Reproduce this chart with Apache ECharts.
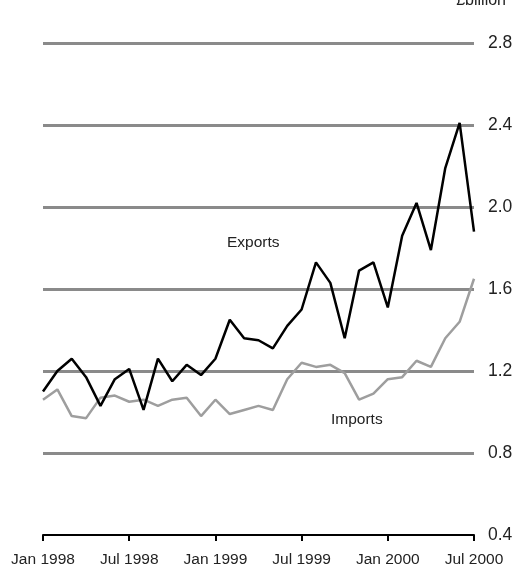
<!DOCTYPE html>
<html><head><meta charset="utf-8">
<script src="https://cdn.jsdelivr.net/npm/echarts@6/dist/echarts.min.js"></script>
<style>html,body{margin:0;padding:0;background:#fff}#c{width:516px;height:568px}</style>
</head><body><div id="c"></div>
<script>
const months = ['Jan','Feb','Mar','Apr','May','Jun','Jul','Aug','Sep','Oct','Nov','Dec'];
const categories = [];
for (let y = 1998; y <= 2000; y++) for (let m = 0; m < 12; m++) { if (y === 2000 && m > 6) break; categories.push(months[m] + ' ' + y); }
const exportsData = [1.10,1.20,1.26,1.17,1.03,1.16,1.21,1.01,1.26,1.15,1.23,1.18,1.26,1.45,1.36,1.35,1.31,1.42,1.50,1.73,1.63,1.36,1.69,1.73,1.51,1.86,2.02,1.79,2.19,2.41,1.88];
const importsData = [1.06,1.11,0.98,0.97,1.07,1.08,1.05,1.06,1.03,1.06,1.07,0.98,1.06,0.99,1.01,1.03,1.01,1.16,1.24,1.22,1.23,1.19,1.06,1.09,1.16,1.17,1.25,1.22,1.36,1.44,1.65];
const yTicks = {min: 0.4, max: 2.8, step: 0.4};

const FONT = 'Liberation Sans, Arial, sans-serif';
const chart = echarts.init(document.getElementById('c'), null, {renderer: 'canvas'});
chart.setOption({
  animation: false,
  backgroundColor: '#fff',
  grid: {left: 43, right: 42, top: 43, bottom: 33},
  xAxis: {
    type: 'category', data: categories, boundaryGap: false,
    axisLine: {lineStyle: {color: '#000', width: 2}},
    axisTick: {interval: 5, length: 6, lineStyle: {color: '#000', width: 2}},
    axisLabel: {interval: 5, color: '#222', fontSize: 15.5, fontFamily: FONT, margin: 17, showMaxLabel: true},
    splitLine: {show: false}
  },
  yAxis: {
    type: 'value', position: 'right', min: yTicks.min, max: yTicks.max, interval: yTicks.step,
    axisLine: {show: false}, axisTick: {show: false},
    axisLabel: {color: '#222', fontSize: 17.5, fontFamily: FONT, margin: 14, formatter: v => v.toFixed(1)},
    splitLine: {show: true, lineStyle: {color: ['rgba(0,0,0,0)','#8a8a8a','#8a8a8a','#8a8a8a','#8a8a8a','#8a8a8a','#8a8a8a'], width: 3}}
  },
  series: [
    {name: 'Imports', type: 'line', data: importsData, symbol: 'none', lineStyle: {color: '#9e9e9e', width: 2.5}, z: 3},
    {name: 'Exports', type: 'line', data: exportsData, symbol: 'none', lineStyle: {color: '#000', width: 2.5}, z: 4}
  ],
  graphic: [
    {type: 'text', left: 227, top: 235, style: {text: 'Exports', fill: '#222', font: '15.5px ' + FONT}},
    {type: 'text', left: 331, top: 412, style: {text: 'Imports', fill: '#222', font: '15.5px ' + FONT}},
    {type: 'text', right: 10, top: -7, style: {text: '£billion', fill: '#222', font: '16px ' + FONT}}
  ]
});
</script></body></html>
